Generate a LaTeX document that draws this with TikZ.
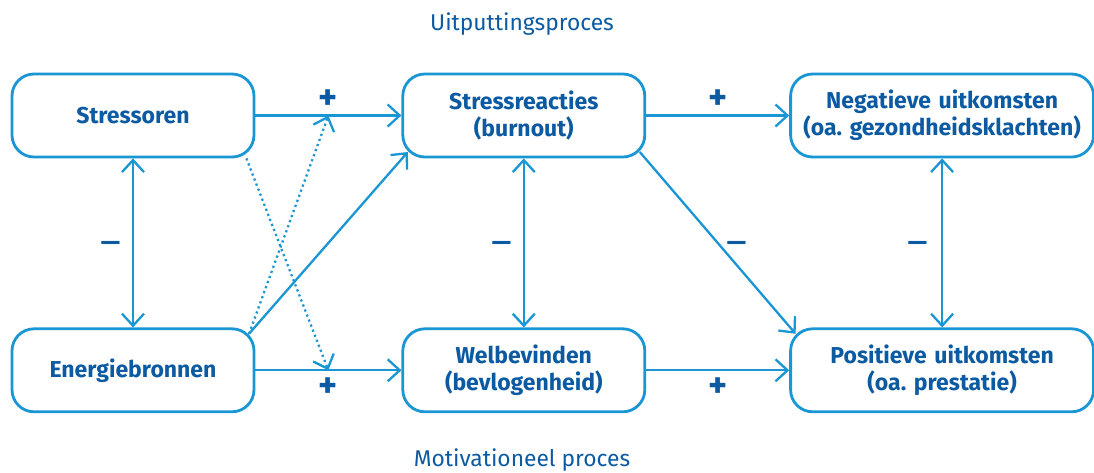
\documentclass[tikz,border=0pt]{standalone}
\usepackage{fontspec}
\setmainfont{Fira Sans}
\usetikzlibrary{arrows.meta, positioning}
\definecolor{lineblue}{HTML}{1A96D4}
\definecolor{textblue}{HTML}{0B5AA2}
\frenchspacing

\begin{document}
\begin{tikzpicture}[x=0.5pt, y=-0.5pt,
    procbox/.style={rectangle,draw=lineblue,line width=1.4pt,rounded corners=11pt,
        text width=121pt,inner sep=0pt,align=center,minimum height=41.5pt,
        font=\fontsize{11.5}{13.5}\selectfont\bfseries,text=textblue},
    widebox/.style={procbox,text width=151.5pt},
    arrow/.style={->,>={Straight Barb[length=6pt,width=11pt]},
        line width=1.15pt,draw=lineblue},
    dualarrow/.style={arrow,<->},
    dotarrow/.style={arrow,dash pattern=on 1.1pt off 1.6pt},
    plussign/.style={font=\fontsize{18}{18}\selectfont\bfseries,text=textblue,inner sep=1pt},
    minussign/.style={font=\fontsize{20}{20}\selectfont,text=textblue,inner sep=1pt},
    proclabel/.style={font=\fontsize{11.4}{13}\selectfont,text=textblue}
]
\useasboundingbox (0,0) rectangle (1094,472);
\node[proclabel] (uitp) at (522,24) {Uitputtingsproces};
\node[proclabel] (motiv) at (522,460) {Motivationeel proces};
% top row: exhaustion process
\node[procbox] (str) at (133,115.5) {Stressoren};
\node[procbox, right=73pt of str] (sr) {Stressreacties\\(burnout)};
\node[widebox, right=71.5pt of sr] (neg)
    {Negatieve uitkomsten\\(oa. gezondheidsklachten)};
% bottom row: motivational process
\node[procbox, below=84.5pt of str] (eb) {Energiebronnen};
\node[procbox, below=84.5pt of sr] (wb) {Welbevinden\\(bevlogenheid)};
\node[widebox, below=84.5pt of neg] (pos)
    {Positieve uitkomsten\\(oa. prestatie)};
\draw[arrow] (str) -- coordinate (m1) node[plussign, above=1.5pt] {+} (sr);
\draw[arrow] (sr) -- node[plussign, above=1.5pt] {+} (neg);
\draw[arrow] (eb) -- coordinate (m2) node[plussign, below=2pt] {+} (wb);
\draw[arrow] (wb) -- node[plussign, below=2pt] {+} (pos);
\draw[dualarrow] (str) -- node[minussign, left=4.5pt, yshift=-3pt] {–} (eb);
\draw[dualarrow] (sr) -- node[minussign, left=4pt, yshift=-3pt] {–} (wb);
\draw[dualarrow] (neg) -- node[minussign, left=5.5pt, yshift=-3pt] {–} (pos);
\draw[arrow] ([xshift=-3.2pt,yshift=3.2pt]sr.south east)
    -- node[minussign, right=3pt, yshift=-3pt] {–}
    ([xshift=3.2pt,yshift=-3.2pt]pos.north west);
\draw[arrow] ([xshift=-3.2pt,yshift=-3.2pt]eb.north east)
    -- ([xshift=3.2pt,yshift=3.2pt]sr.south west);
% crossing dotted links
\draw[dotarrow] ([xshift=-4.5pt]str.south east) -- (m2);
\draw[dotarrow] ([xshift=-3.2pt,yshift=-3.2pt]eb.north east) -- (m1);
\end{tikzpicture}
\end{document}
